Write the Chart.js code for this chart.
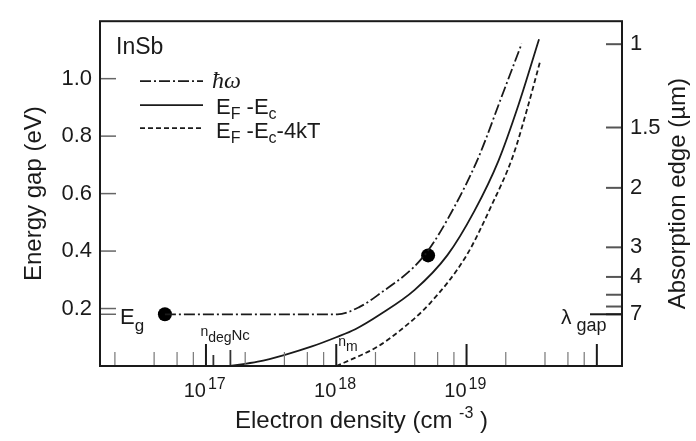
<!DOCTYPE html>
<html>
<head>
<meta charset="utf-8">
<script src="https://cdn.jsdelivr.net/npm/chart.js@4.4.0/dist/chart.umd.min.js"></script>
<style>
  html, body { margin: 0; padding: 0; background: #fff; }
  canvas { display: block; }
</style>
</head>
<body>
<canvas id="gap_chart" width="696" height="441"></canvas>
<script>
// hbar omega (dash-dot)
const hwDensity = [4.84e16, 1.02e18, 1.5e18, 2.06e18, 4.75e18, 8.2e18, 1.24e19, 1.83e19, 2.65e19];
const hwEnergy = [0.18, 0.18, 0.205, 0.245, 0.385, 0.56, 0.728, 0.929, 1.122];
// EF - Ec (solid)
const efDensity = [1.53e17, 2.5e17, 4.04e17, 6.5e17, 1.0e18, 1.4e18, 2.18e18, 4.0e18, 7.11e18, 1.15e19, 1.76e19, 2.51e19, 3.6e19];
const efEnergy = [0, 0.015, 0.039, 0.068, 0.1, 0.128, 0.18, 0.265, 0.385, 0.54, 0.715, 0.91, 1.137];
// EF - Ec - 4kT (dashed)
const ef4Density = [1.0e18, 1.5e18, 2.05e18, 3.08e18, 5.28e18, 1.0e19, 1.56e19, 2.26e19, 2.9e19, 3.66e19];
const ef4Energy = [0, 0.035, 0.066, 0.123, 0.22, 0.385, 0.56, 0.728, 0.89, 1.058];
// the two black dots
const dotDensity = [4.84e16, 5.07e18];
const dotEnergy = [0.18, 0.385];

const gapEnergy = 0.18;
const leftTicks = [0.2, 0.4, 0.6, 0.8, 1.0];
const rightTickEnergy = [1.12, 0.83, 0.62, 0.413, 0.31, 0.248, 0.207, 0.18];
const rightTickLabels = ["1", "1.5", "2", "3", "4", "", "", "7"];
const decades = [1e17, 1e18, 1e19, 1e20];
const decadeLabels = ["17", "18", "19"];
const minorTicks = [2e16, 4e16, 6e16, 8e16, 2e17, 4e17, 6e17, 8e17,
  2e18, 4e18, 6e18, 8e18, 2e19, 4e19, 6e19, 8e19];
const nDeg = 1.14e17;
const nC = 1.54e17;

const ink = "#1a1a1a";
const family = "'Liberation Sans', Arial, sans-serif";

const toPoints = (xs, ys) => xs.map((v, i) => ({ x: v, y: ys[i] }));

function line(ctx, x1, y1, x2, y2, w, c, dash) {
  ctx.beginPath();
  ctx.setLineDash(dash || []);
  ctx.lineWidth = w;
  ctx.strokeStyle = c;
  ctx.moveTo(x1, y1);
  ctx.lineTo(x2, y2);
  ctx.stroke();
  ctx.setLineDash([]);
}

// draws [text, size, baselineShift] pieces one after another
function pieces(ctx, x, y, parts, fam) {
  parts.forEach(([s, size, dy]) => {
    ctx.font = size + "px " + (fam || family);
    ctx.fillText(s, x, y + dy);
    x += ctx.measureText(s).width;
  });
  return x;
}

const decorations = {
  id: "decorations",
  afterDraw(chart) {
    const { ctx, chartArea: a, scales: { x, y } } = chart;
    ctx.save();

    // bottom ticks, pointing in
    minorTicks.forEach(v => {
      const px = x.getPixelForValue(v);
      line(ctx, px, a.bottom, px, a.bottom - 14, 1.2, "#777");
    });
    const pd = x.getPixelForValue(nDeg), pc = x.getPixelForValue(nC);
    line(ctx, pd, a.bottom, pd, a.bottom - 11, 1.8, "#333");
    line(ctx, pc, a.bottom, pc, a.bottom - 16, 1.8, "#333");
    decades.forEach(v => {
      const px = x.getPixelForValue(v);
      line(ctx, px, a.bottom, px, a.bottom - 22, 2, ink);
    });

    // left and right ticks
    leftTicks.concat([gapEnergy]).forEach(v => {
      const py = y.getPixelForValue(v);
      line(ctx, a.left, py, a.left + 16, py, 1.5, "#666");
    });
    rightTickEnergy.forEach(v => {
      const py = y.getPixelForValue(v);
      line(ctx, a.right - 16, py, a.right, py, 2, "#555");
    });
    const yGap = y.getPixelForValue(gapEnergy);
    line(ctx, a.right - 32, yGap, a.right, yGap, 2, ink);

    // frame
    ctx.strokeStyle = ink;
    ctx.lineWidth = 2;
    ctx.strokeRect(a.left, a.top, a.width, a.height);

    ctx.fillStyle = ink;
    ctx.textBaseline = "alphabetic";
    ctx.textAlign = "left";

    // x tick labels 10^n
    decadeLabels.forEach((s, i) => {
      const px = x.getPixelForValue(decades[i]);
      ctx.font = "20px " + family;
      ctx.textAlign = "right";
      ctx.fillText("10", px, 397);
      ctx.textAlign = "left";
      ctx.font = "16px " + family;
      ctx.fillText(s, px + 2, 389);
    });

    // x title
    pieces(ctx, 235, 428, [["Electron density (cm ", 24, 0], ["-3", 16, -10], [" )", 24, 0]]);

    // right title
    ctx.save();
    ctx.translate(678, (a.top + a.bottom) / 2);
    ctx.rotate(-Math.PI / 2);
    ctx.textAlign = "center";
    ctx.textBaseline = "middle";
    ctx.font = "24px " + family;
    ctx.fillText("Absorption edge (\u00b5m)", 0, 0);
    ctx.restore();

    // InSb
    ctx.font = "23px " + family;
    ctx.fillText("InSb", a.left + 16, a.top + 33);

    // legend
    const lx1 = a.left + 40, lx2 = a.left + 103;
    line(ctx, lx1, a.top + 60, lx2, a.top + 60, 1.8, ink, [11, 3, 2, 3]);
    line(ctx, lx1, a.top + 84, lx2, a.top + 84, 1.8, ink);
    line(ctx, lx1, a.top + 107, lx2, a.top + 107, 1.8, ink, [5, 3]);
    ctx.font = "italic 24px 'Liberation Serif', serif";
    ctx.fillText("\u0127\u03c9", a.left + 112, a.top + 67);
    pieces(ctx, a.left + 116, a.top + 93, [["E", 22, 0], ["F", 16, 5], [" -E", 22, 0], ["c", 16, 5]]);
    pieces(ctx, a.left + 116, a.top + 117, [["E", 22, 0], ["F", 16, 5], [" -E", 22, 0], ["c", 16, 5], ["-4kT", 22, 0]]);

    // Eg and lambda gap
    pieces(ctx, a.left + 20, yGap + 10, [["E", 22, 0], ["g", 17, 7]]);
    pieces(ctx, a.right - 61, yGap + 10, [["\u03bb", 21, 0], [" gap", 18, 7]]);

    // n_deg Nc and n_m labels
    pieces(ctx, pd - 13, 336, [["n", 14, 0], ["deg", 14, 6], ["Nc", 15, 4]]);
    const pm = x.getPixelForValue(1e18);
    pieces(ctx, pm + 2, 346, [["n", 14, 0], ["m", 14, 5]]);

    ctx.restore();
  }
};

const ctx = document.getElementById("gap_chart").getContext("2d");
const gapChart = new Chart(ctx, {
  type: "line",
  data: {
    datasets: [
      {
        label: "\u0127\u03c9",
        data: toPoints(hwDensity, hwEnergy),
        borderColor: ink,
        borderWidth: 1.8,
        borderDash: [11, 3, 2, 3],
        pointRadius: 0,
        cubicInterpolationMode: "monotone",
      },
      {
        label: "EF - Ec",
        data: toPoints(efDensity, efEnergy),
        borderColor: ink,
        borderWidth: 1.8,
        pointRadius: 0,
        cubicInterpolationMode: "monotone",
      },
      {
        label: "EF - Ec - 4kT",
        data: toPoints(ef4Density, ef4Energy),
        borderColor: ink,
        borderWidth: 1.8,
        borderDash: [5, 3],
        pointRadius: 0,
        cubicInterpolationMode: "monotone",
      },
      {
        type: "scatter",
        label: "dots",
        data: toPoints(dotDensity, dotEnergy),
        backgroundColor: "#000",
        borderWidth: 0,
        pointRadius: 7,
        showLine: false,
      },
    ],
  },
  options: {
    responsive: false,
    animation: false,
    layout: { padding: { top: 10, left: 0, right: 0, bottom: 0 } },
    plugins: { legend: { display: false }, tooltip: { enabled: false } },
    scales: {
      x: {
        type: "logarithmic",
        min: 1.537e16,
        max: 1.56e20,
        ticks: { display: false },
        grid: { display: false, drawTicks: false },
        border: { display: false },
        afterFit: s => { s.height = 75; },
      },
      y: {
        type: "linear",
        position: "left",
        min: 0,
        max: 1.2,
        afterBuildTicks: s => { s.ticks = leftTicks.map(v => ({ value: v })); },
        afterFit: s => { s.width = 100; },
        grid: { display: false, drawTicks: false },
        border: { display: false },
        ticks: {
          color: ink,
          autoSkip: false,
          padding: 8,
          font: { family: family, size: 22 },
          callback: v => Number(v).toFixed(1),
        },
        title: {
          display: true,
          text: "Energy gap (eV)",
          color: ink,
          font: { family: family, size: 24 },
          padding: { top: 20, bottom: 0 },
        },
      },
      y2: {
        type: "linear",
        position: "right",
        min: 0,
        max: 1.2,
        afterBuildTicks: s => { s.ticks = rightTickEnergy.map(v => ({ value: v })); },
        afterFit: s => { s.width = 74; },
        grid: { display: false, drawTicks: false },
        border: { display: false },
        ticks: {
          color: ink,
          autoSkip: false,
          padding: 8,
          font: { family: family, size: 22 },
          callback: (v, i) => rightTickLabels[i],
        },
      },
    },
  },
  plugins: [decorations],
});
</script>
</body>
</html>
